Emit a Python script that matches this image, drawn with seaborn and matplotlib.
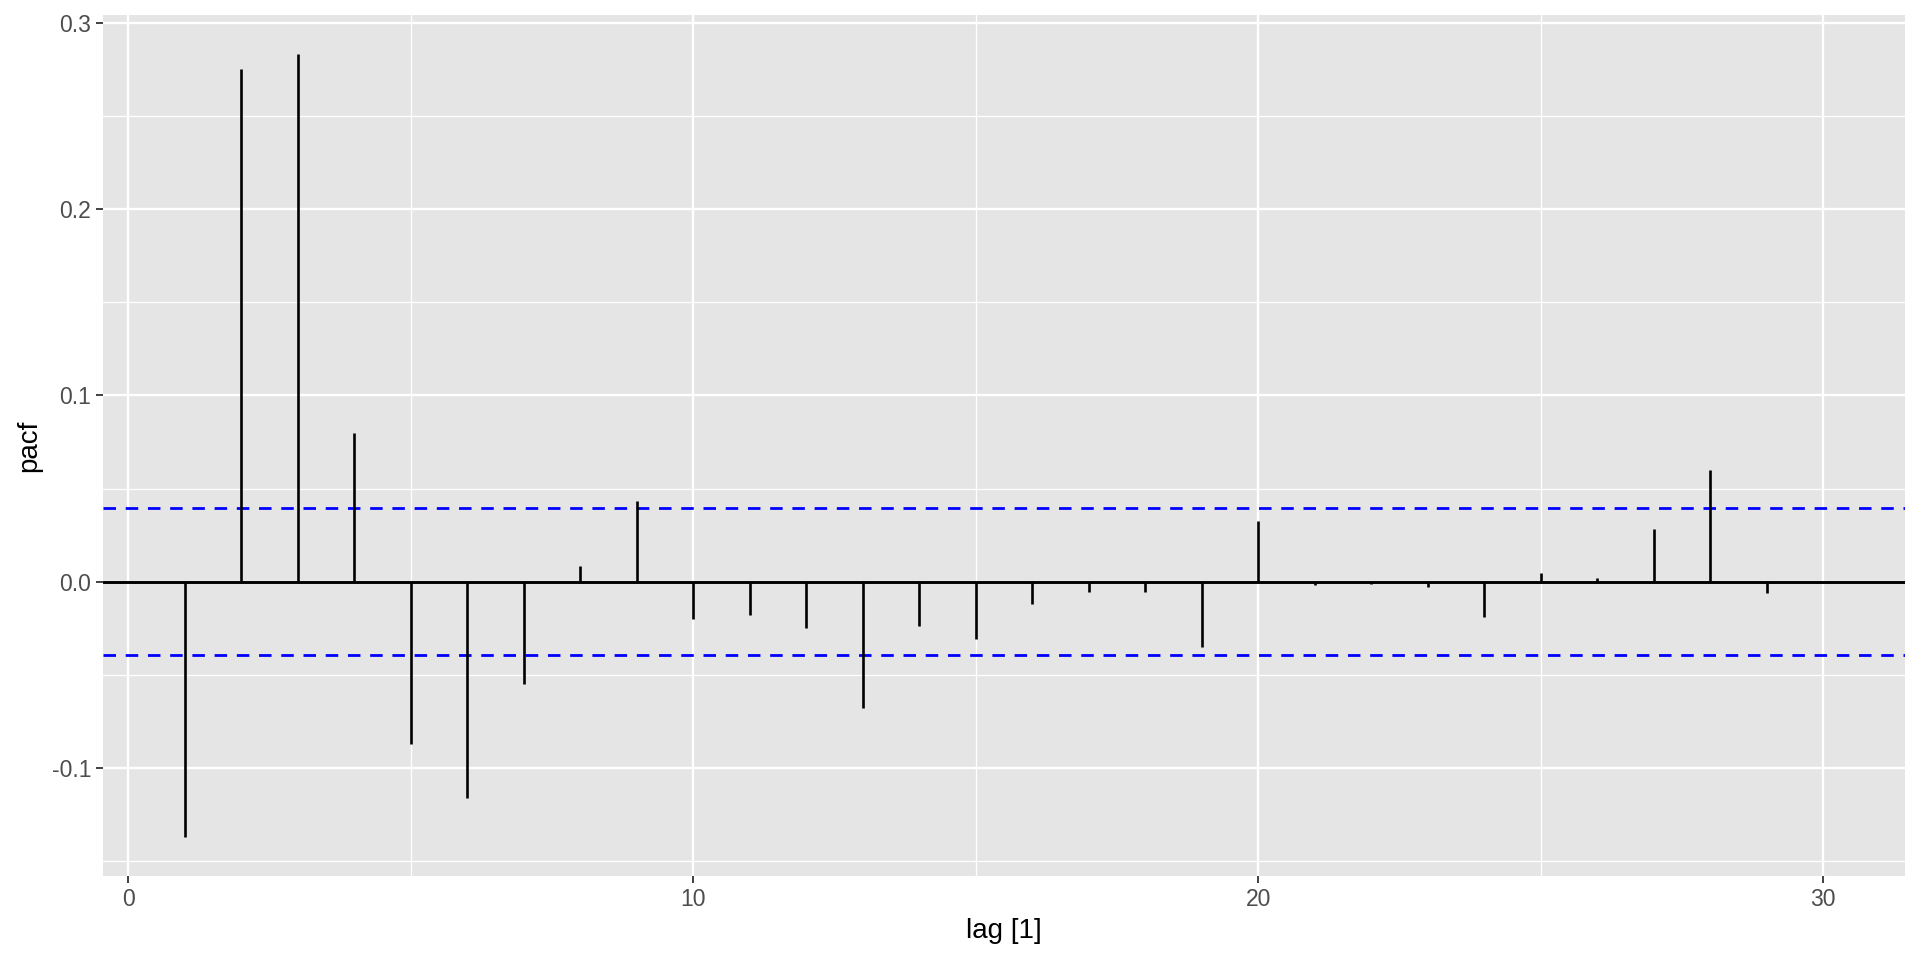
import numpy as np
import pandas as pd
import matplotlib
matplotlib.use("Agg")
import matplotlib.pyplot as plt
import seaborn as sns
from matplotlib.ticker import MultipleLocator, FormatStrFormatter

# partial autocorrelations
lags = list(range(1, 31))
pacf = [-0.137, 0.275, 0.283, 0.080, -0.087, -0.116, -0.055, 0.0084, 0.0432, -0.0202,
        -0.0179, -0.0250, -0.0678, -0.0238, -0.0308, -0.0120, -0.0057, -0.0057, -0.0349, 0.0325,
        -0.0016, -0.0011, -0.0029, -0.0189, 0.0048, 0.0018, 0.0282, 0.0599, -0.0059, 0.0]
ci_bound = 0.0393

df = pd.DataFrame({"lag": lags, "pacf": pacf})

sns.set_theme(style="darkgrid", rc={
    "axes.facecolor": "#E5E5E5",
    "grid.color": "white",
    "axes.edgecolor": "none",
    "axes.unicode_minus": False,
})
plt.rcParams["font.family"] = ["Liberation Sans", "DejaVu Sans"]

fig = plt.figure(figsize=(19.2, 9.6), dpi=100)
ax = fig.add_axes([0.0536, 0.0875, 0.9386, 0.8965])

ax.vlines(df["lag"], 0, df["pacf"], color="black", linewidth=1.9, zorder=3)
ax.axhline(0, color="black", linewidth=2.1, zorder=3)
for b in (ci_bound, -ci_bound):
    ax.axhline(b, color="blue", linewidth=2.0, linestyle=(0, (4.5, 3.5)), zorder=2)

n0, n1 = min(lags), max(lags)
span = n1 - n0
ax.set_xlim(n0 - 0.05 * span, n1 + 0.05 * span)
lo, hi = min(pacf), max(pacf)
ax.set_ylim(lo - 0.05 * (hi - lo), hi + 0.05 * (hi - lo))

ax.xaxis.set_major_locator(MultipleLocator(10))
ax.xaxis.set_minor_locator(MultipleLocator(5))
ax.yaxis.set_major_locator(MultipleLocator(0.1))
ax.yaxis.set_minor_locator(MultipleLocator(0.05))
ax.yaxis.set_major_formatter(FormatStrFormatter("%.1f"))
ax.xaxis.set_major_formatter(FormatStrFormatter("%d"))

ax.grid(which="major", color="white", linewidth=1.7)
ax.grid(which="minor", color="white", linewidth=0.9)
ax.set_axisbelow(True)

ax.tick_params(which="major", length=4.75, width=1.3, color="#333333",
               labelsize=16.5, labelcolor="#4D4D4D", pad=3.8,
               bottom=True, left=True)
ax.tick_params(which="minor", length=0)

ax.set_xlabel("lag [1]", fontsize=20, color="black", labelpad=5)
ax.set_ylabel("pacf", fontsize=20, color="black", labelpad=7)

fig.savefig("out.png", dpi=100)
